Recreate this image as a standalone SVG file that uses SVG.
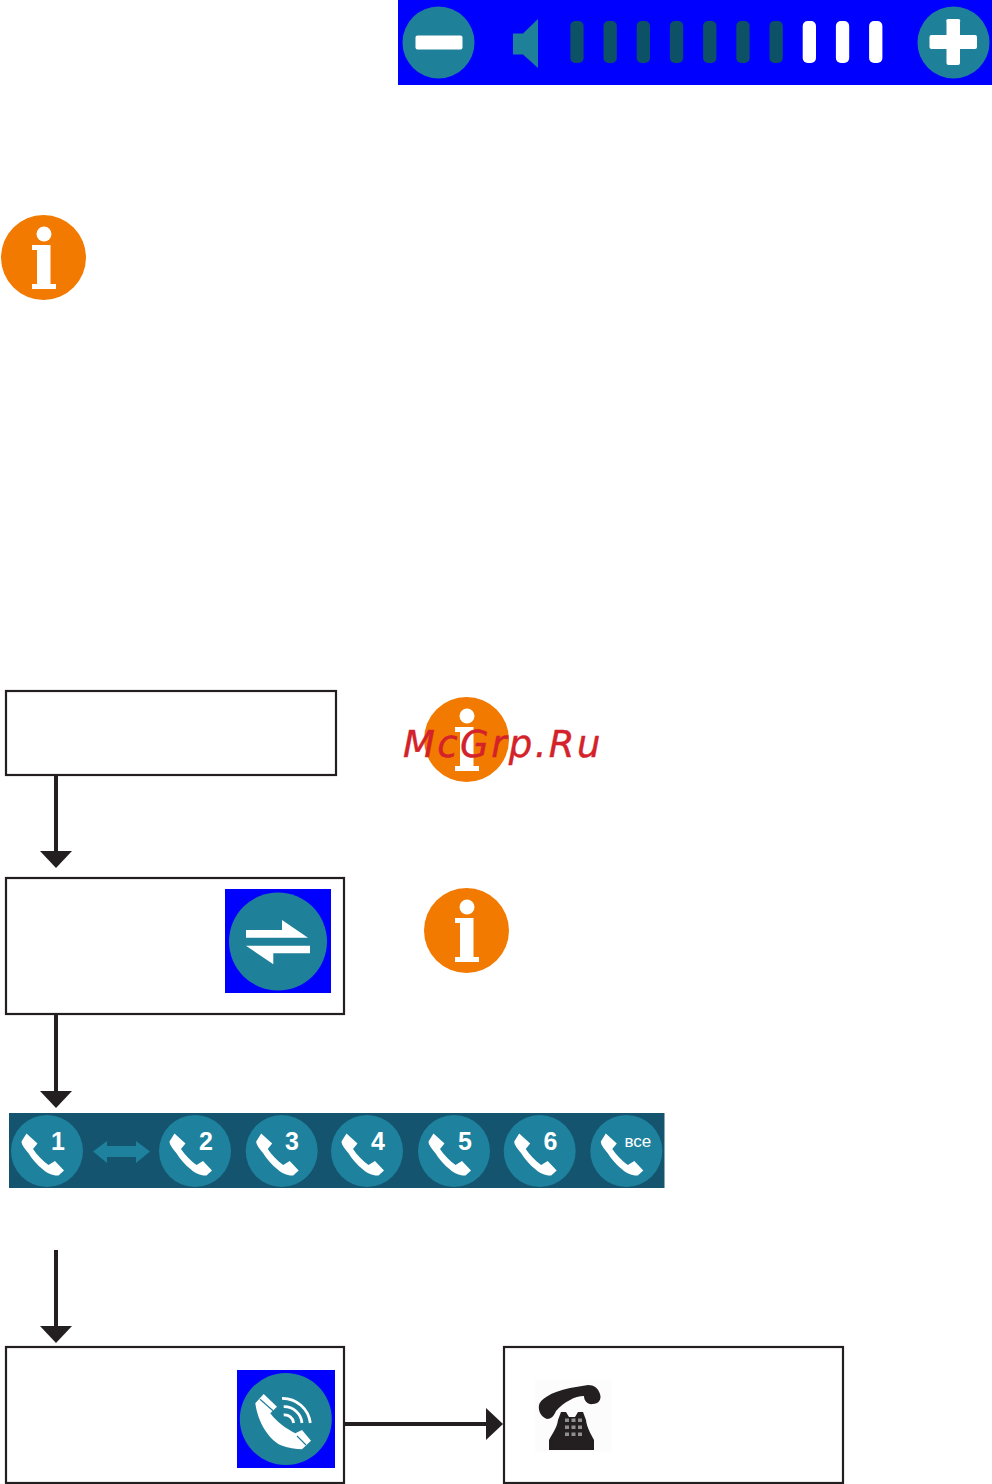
<svg xmlns="http://www.w3.org/2000/svg" width="992" height="1484" viewBox="0 0 992 1484">
<style>
.box{fill:#fff;stroke:#231f20;stroke-width:2.200}
.conn{stroke:#231f20;stroke-width:4;fill:none;marker-end:url(#head)}
.teal{fill:#1f8099}
.callc{fill:#1e819d}
.w{fill:#fff}
.blue{fill:#00f}
.num{font-family:"Liberation Sans",Arial,sans-serif;font-weight:bold;font-size:25px;fill:#fff;text-anchor:middle}
.vse{font-family:"Liberation Sans",Arial,sans-serif;font-size:17px;fill:#fff;text-anchor:start}
.lvl{fill:#0d5166}
.wm{font-family:"DejaVu Sans",sans-serif;font-style:italic;font-size:37px;letter-spacing:2.400px;fill:#d3222a;stroke:#d3222a;stroke-width:.4}
</style>
<defs>
<marker id="head" viewBox="0 0 17 32" refX="0" refY="16" markerWidth="17" markerHeight="32" markerUnits="userSpaceOnUse" orient="auto"><path d="M0,0L17,16L0,32Z" fill="#231f20"/></marker>
<g id="info"><circle r="42.5" fill="#f27a00"/><circle cx="0.5" cy="-23.5" r="7.5" fill="#fff"/><path d="M-11.5,-12.5H7V26.500H12.500V31.500H-11.500V26.500H-6.500V-7.500H-11.500Z" fill="#fff"/></g>
<g id="call"><circle r="36" class="callc"/><path d="M-20.500,-17.500L-9.500,-7.500L-14,-2C-10,4 -4,10 1.500,14L8,10L17,19.500L11.500,24.500C6,25 0,22 -3.700,18.700C-10,14 -15,8 -18.700,2C-22,-2 -25.500,-6 -25.500,-9.500Z" fill="#fff"/></g>
</defs>

<g id="volume-bar">
<rect x="398" y="0" width="594" height="85" class="blue"/>
<circle cx="438.500" cy="42.500" r="36" class="teal"/>
<rect x="415.500" y="35.500" width="47" height="14" rx="2" class="w"/>
<path d="M513,33.500H523L538,19V68L523,54.500H513Z" class="teal"/>
<rect x="570.300" y="21" width="13.300" height="42" rx="5" class="lvl"/>
<rect x="603.500" y="21" width="13.300" height="42" rx="5" class="lvl"/>
<rect x="636.700" y="21" width="13.300" height="42" rx="5" class="lvl"/>
<rect x="669.900" y="21" width="13.300" height="42" rx="5" class="lvl"/>
<rect x="703.100" y="21" width="13.300" height="42" rx="5" class="lvl"/>
<rect x="736.300" y="21" width="13.300" height="42" rx="5" class="lvl"/>
<rect x="769.500" y="21" width="13.300" height="42" rx="5" class="lvl"/>
<rect x="802.700" y="21" width="13.300" height="42" rx="5" class="w"/>
<rect x="835.900" y="21" width="13.300" height="42" rx="5" class="w"/>
<rect x="869.100" y="21" width="13.300" height="42" rx="5" class="w"/>
<circle cx="953.500" cy="42.500" r="36" class="teal"/>
<path d="M946.500,22a2,2 0 0 1 2,-3h9.500a2,2 0 0 1 2,3V35H975a2,2 0 0 1 2,2V47a2,2 0 0 1 -2,2H960V63a2,2 0 0 1 -2,2H948.500a2,2 0 0 1 -2,-2V49H931.500a2,2 0 0 1 -2,-2V37a2,2 0 0 1 2,-2H946.500Z" class="w"/>
</g>

<g id="info-1"><use href="#info" x="43.500" y="257.500"/></g>

<g id="box-1"><rect x="6" y="691" width="330" height="84" class="box"/></g>
<g id="info-2"><use href="#info" x="466.500" y="739.500"/></g>

<g id="box-2">
<rect x="6" y="878" width="338" height="136" class="box"/>
<rect x="225" y="889" width="106" height="104" class="blue"/>
<circle cx="278" cy="941.500" r="49" class="teal"/>
<path d="M246,930H282V920L308,937.700H246Z" class="w"/>
<path d="M246,945.700H310V953.300H273.300V964.300Z" class="w"/>
</g>
<g id="info-3"><use href="#info" x="466.500" y="930.500"/></g>

<g id="line-selector">
<rect x="9" y="1113" width="655.500" height="75" fill="#14546e"/>
<use href="#call" x="47" y="1151"/>
<path d="M93,1151.500L107,1141V1146H136V1141L150,1151.500L136,1163V1157H107V1163Z" class="callc"/>
<use href="#call" x="195" y="1151"/>
<use href="#call" x="281.700" y="1151"/>
<use href="#call" x="367" y="1151"/>
<use href="#call" x="454" y="1151"/>
<use href="#call" x="539.700" y="1151"/>
<use href="#call" x="626.300" y="1151"/>
<text x="58" y="1150" class="num">1</text>
<text x="206" y="1150" class="num">2</text>
<text x="292" y="1150" class="num">3</text>
<text x="378" y="1150" class="num">4</text>
<text x="465" y="1150" class="num">5</text>
<text x="550.500" y="1150" class="num">6</text>
<text x="624.500" y="1147" class="vse">все</text>
</g>

<g id="box-3">
<rect x="6" y="1347" width="338" height="136" class="box"/>
<rect x="237" y="1370" width="98" height="98" class="blue"/>
<circle cx="285.800" cy="1419" r="46" class="teal"/>
<path d="M255.300,1403.300L263.700,1394L277,1406.700L270.300,1413.300C277,1422 285,1428 295.300,1433.300L302,1430L311,1440.700L302,1449.300C296,1449 288,1448 280.300,1445C270,1440 258,1424 255.300,1403.300Z" class="w"/>
<path d="M260,1399.300L273,1410.700M297,1436L306,1445" stroke="#1f8099" stroke-width="1.200" fill="none"/>
<path d="M282,1398.300A28,28 0 0 1 310.300,1423M283.700,1406.700A18,18 0 0 1 302,1423M283.700,1415A9,9 0 0 1 293.700,1423" stroke="#fff" stroke-width="2.800" fill="none"/>
</g>

<g id="box-4">
<rect x="504" y="1347" width="339" height="136" class="box"/>
<rect x="535" y="1380" width="77" height="72" fill="#fcfcfc"/>
<path d="M539,1405C540,1400 550,1392 570,1388L588,1385C594,1385 598,1388 600,1394C602,1400 598,1404 593,1404C588,1405 584,1401 584,1396C575,1396 564,1402 556,1411C554,1416 551,1419 547,1419C541,1417 538,1411 539,1405Z" fill="#231f20"/>
<path d="M549,1450V1440C552,1434 557,1428 558,1420L561,1412H566L569,1417H575L578,1412H583L586,1420C587,1428 591,1434 594,1440V1450Z" fill="#231f20"/>
<g fill="#8f8f8f"><rect x="565" y="1418.500" width="4" height="3.500"/><rect x="571.500" y="1418.500" width="4" height="3.500"/><rect x="578" y="1418.500" width="4" height="3.500"/><rect x="565" y="1425.500" width="4" height="3.500"/><rect x="571.500" y="1425.500" width="4" height="3.500"/><rect x="578" y="1425.500" width="4" height="3.500"/><rect x="565" y="1432.500" width="4" height="3.500"/><rect x="571.500" y="1432.500" width="4" height="3.500"/><rect x="578" y="1432.500" width="4" height="3.500"/></g>
</g>

<g id="connectors">
<line x1="56" y1="775" x2="56" y2="851" class="conn"/>
<line x1="56" y1="1014" x2="56" y2="1091" class="conn"/>
<line x1="56" y1="1250" x2="56" y2="1326" class="conn"/>
<line x1="345" y1="1424" x2="486" y2="1424" class="conn"/>
</g>

<text x="403" y="757" class="wm">McGrp.Ru</text>
</svg>
